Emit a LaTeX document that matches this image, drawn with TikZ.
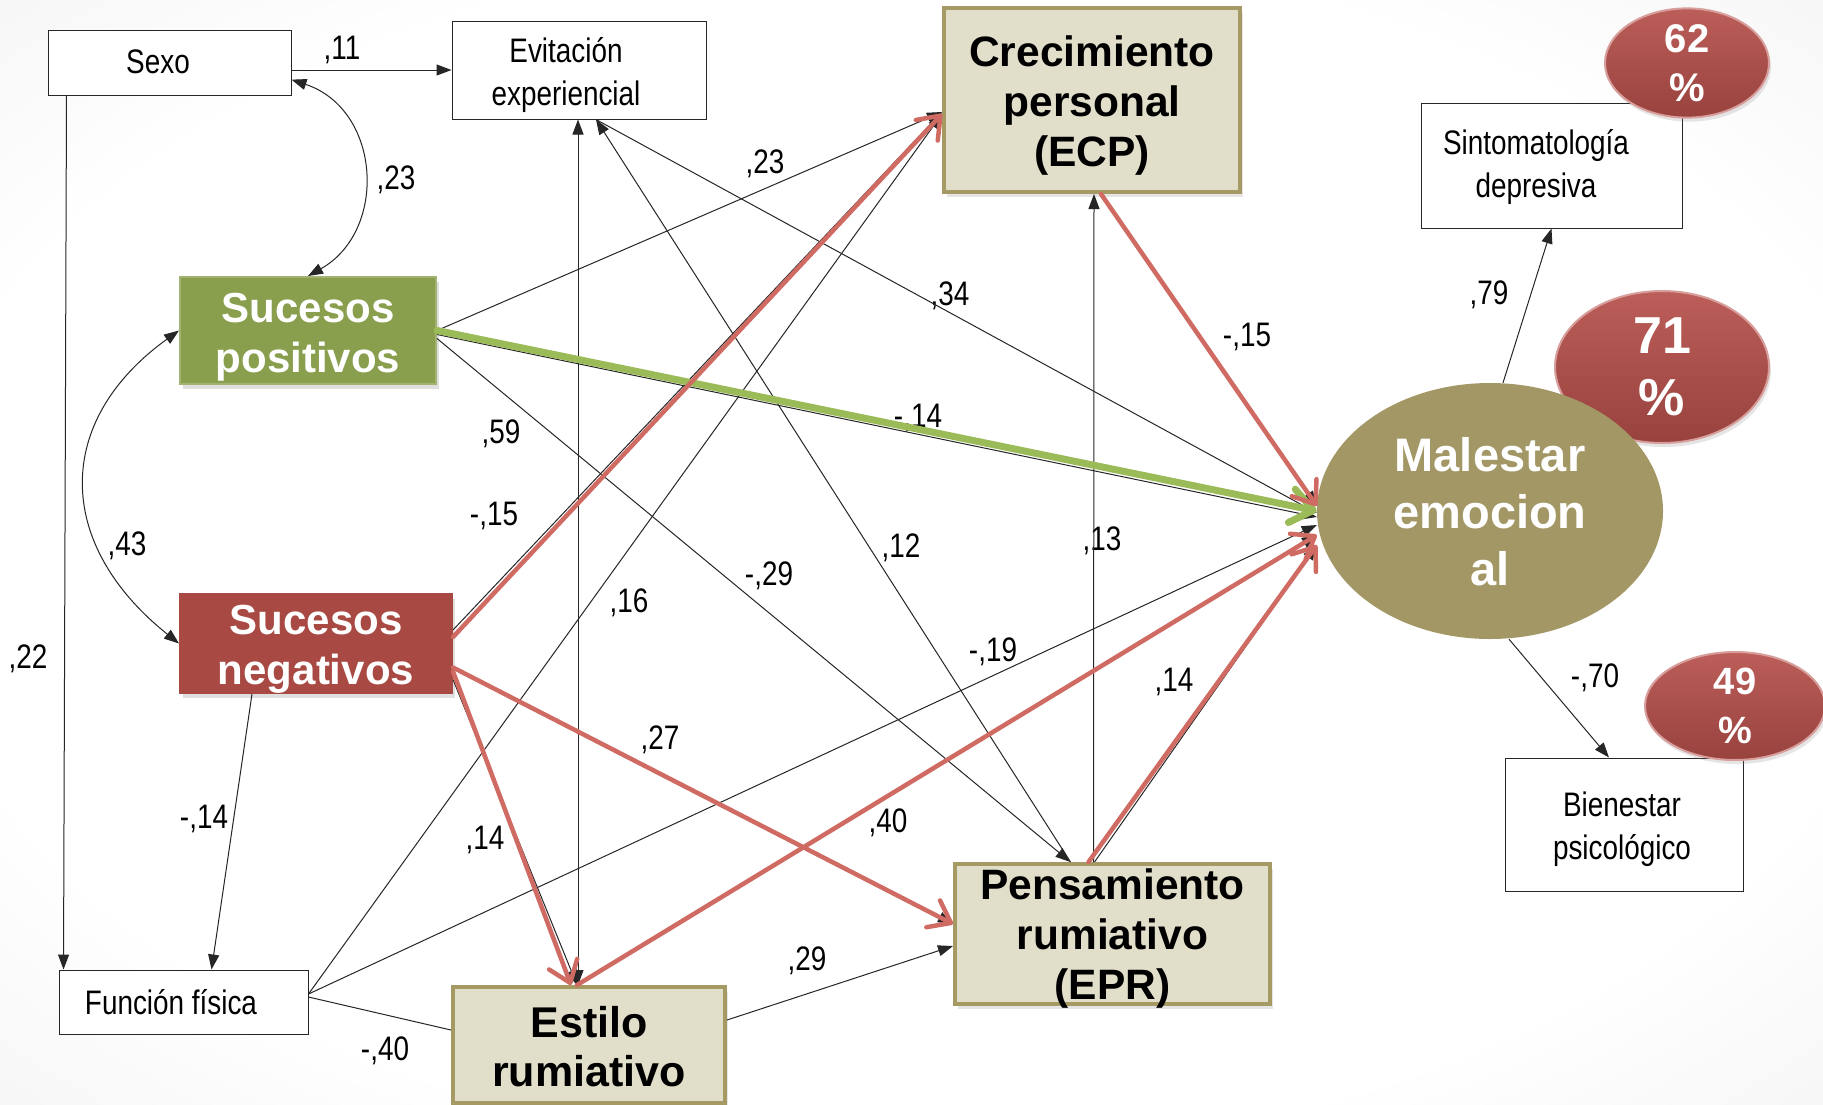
\documentclass[tikz,border=0pt]{standalone}
\usepackage{fontspec}
\setmainfont{Liberation Sans}
\newfontfamily\narrowfont[FakeStretch=0.82]{Liberation Sans}
\usetikzlibrary{arrows.meta,shapes.geometric,shadows}
\definecolor{verde}{RGB}{137,159,78}
\definecolor{verdeclaro}{RGB}{155,187,89}
\definecolor{rojo}{RGB}{168,74,67}
\definecolor{rojoclaro}{RGB}{208,107,99}
\definecolor{beige}{RGB}{225,223,202}
\definecolor{oliva}{RGB}{165,154,99}
\definecolor{pardo}{RGB}{163,151,102}
\definecolor{pctalto}{RGB}{188,94,89}
\definecolor{pctbajo}{RGB}{152,66,62}
\definecolor{fondoA}{RGB}{255,255,255}
\definecolor{fondoB}{RGB}{232,232,232}
\definecolor{fondoC}{RGB}{212,212,212}
\pgfdeclareradialshading{fondo}{\pgfpoint{0bp}{0bp}}{color(0bp)=(fondoA); color(27bp)=(fondoA); color(50bp)=(fondoB); color(72bp)=(fondoC)}
% box text: #1 lift of the first baseline, #2 extra space on the right, #3 lines
\newcommand\lineas[3]{\raisebox{#1}[0pt][0pt]{\begin{tabular}[t]{@{}c@{}}#3\end{tabular}}\hspace*{#2}}

\begin{document}
\begin{tikzpicture}[
      obs/.style={draw=black!85,fill=white,line width=1pt,inner sep=0pt,
        font=\narrowfont\fontsize{34}{43}\selectfont},
      posbox/.style={fill=verde,draw=verde!80!white,line width=2pt,inner sep=0pt,text=white,
        font=\bfseries\fontsize{42}{50}\selectfont,
        drop shadow={shadow xshift=3pt,shadow yshift=-5pt,opacity=0.25}},
      negbox/.style={posbox,fill=rojo,draw=rojo},
      med/.style={fill=beige,draw=oliva,line width=4pt,inner sep=0pt,
        font=\bfseries\fontsize{42.5}{50}\selectfont,
        drop shadow={shadow xshift=3pt,shadow yshift=-5pt,opacity=0.2}},
      mal/.style={ellipse,fill=pardo,inner sep=0pt,text=white,
        font=\bfseries\fontsize{47}{57}\selectfont},
      pct/.style={ellipse,top color=pctalto,bottom color=pctbajo,draw=pctalto!60!white,line width=2pt,
        inner sep=0pt,align=center,text=white,
        drop shadow={shadow xshift=2pt,shadow yshift=-4pt,opacity=0.2}},
      ln/.style={draw=black!85,line width=1pt,-{Triangle[length=15pt,width=11pt]}},
      dbl/.style={ln,{Triangle[length=15pt,width=11pt]}-{Triangle[length=15pt,width=11pt]}},
      pl/.style={draw=black!85,line width=1pt},
      rd/.style={draw=rojoclaro,line width=4.5pt,line cap=round,
        -{Straight Barb[length=20pt,width=30pt,round]}},
      gr/.style={draw=verdeclaro,line width=7pt,line cap=round,
        -{Straight Barb[length=22pt,width=34pt,round]}},
      lbl/.style={font=\narrowfont\fontsize{34}{40}\selectfont,inner sep=0pt},
      x=1pt,y=-1pt]
    \useasboundingbox (0,0) rectangle (1823,1104);
    \shade[shading=fondo] (0,0) rectangle (1823,1104);

    % observed variables
    \node[obs,minimum width=243pt,minimum height=65pt] (sexo) at (169.5,62.5) {\lineas{-11pt}{23pt}{Sexo}};
    \node[obs,minimum width=254pt,minimum height=98pt] (evit) at (579,70) {\lineas{7.5pt}{26pt}{Evitación\\experiencial}};
    \node[obs,minimum width=249pt,minimum height=64pt] (funcion) at (183.5,1002) {\lineas{-12pt}{25pt}{Función física}};
    \node[obs,minimum width=261pt,minimum height=125pt] (sint) at (1551.5,165.5) {\lineas{11pt}{31pt}{Sintomatología\\depresiva}};
    \node[obs,minimum width=238pt,minimum height=133pt] (bien) at (1624,824.5) {\lineas{8pt}{4pt}{Bienestar\\psicológico}};

    % life events
    \node[posbox,minimum width=256pt,minimum height=107pt] (sucpos) at (308,330.5) {\lineas{8.5pt}{0pt}{Sucesos\\positivos}};
    \node[negbox,minimum width=272pt,minimum height=99pt] (sucneg) at (316,643.5) {\lineas{9pt}{0pt}{Sucesos\\negativos}};

    % mediators
    \node[med,minimum width=296pt,minimum height=184pt] (ecp) at (1092,100) {\lineas{34pt}{0pt}{Crecimiento\\personal\\(ECP)}};
    \node[med,minimum width=315pt,minimum height=140pt] (epr) at (1112.5,934) {\lineas{34.5pt}{0pt}{Pensamiento\\rumiativo\\(EPR)}};
    \node[med,minimum width=272pt,minimum height=116pt,font=\bfseries\fontsize{43}{49}\selectfont] (estilo) at (589,1045) {\lineas{8pt}{0pt}{Estilo\\rumiativo}};

    % outcome and explained variance
    \node[pct,minimum width=214pt,minimum height=152pt,font=\bfseries\fontsize{52}{62}\selectfont] (p71) at (1662,367) {71\\\%};
    \node[mal,minimum width=346pt,minimum height=256pt] (malestar) at (1490,511) {\lineas{40pt}{0pt}{Malestar\\emocion\\al}};
    \node[pct,minimum width=164pt,minimum height=108pt,font=\bfseries\fontsize{40}{49}\selectfont] (p62) at (1687,63) {62\\\%};
    \node[pct,minimum width=180pt,minimum height=108pt,font=\bfseries\fontsize{38}{49}\selectfont] (p49) at (1735,706) {49\\\%};

    % coefficients
    \node[lbl] (w11) at (342,50) {,11};
    \node[lbl] (w23a) at (396,180) {,23};
    \node[lbl] (w23b) at (765,164) {,23};
    \node[lbl] (w34) at (950,296) {,34};
    \node[lbl] (w15a) at (1247,337) {-,15};
    \node[lbl] (w79) at (1489,295) {,79};
    \node[lbl] (w14a) at (918,418) {-,14};
    \node[lbl] (w59) at (501,434) {,59};
    \node[lbl] (w15b) at (494,516) {-,15};
    \node[lbl] (w43) at (127,546) {,43};
    \node[lbl] (w22) at (28,659) {,22};
    \node[lbl] (w16) at (629,603) {,16};
    \node[lbl] (w29a) at (769,576) {-,29};
    \node[lbl] (w12) at (901,548) {,12};
    \node[lbl] (w13) at (1102,541) {,13};
    \node[lbl] (w19) at (993,652) {-,19};
    \node[lbl] (w14b) at (1174,682) {,14};
    \node[lbl] (w27) at (660,740) {,27};
    \node[lbl] (w14c) at (204,819) {-,14};
    \node[lbl] (w14d) at (485,840) {,14};
    \node[lbl] (w40a) at (888,823) {,40};
    \node[lbl] (w29b) at (807,961) {,29};
    \node[lbl] (w40b) at (385,1051) {-,40};
    \node[lbl] (w70) at (1595,678) {-,70};

    % thin paths
    \draw[ln] (sexo.east |- evit.west) -- (evit.west);
    \draw[dbl] (sexo.-8) .. controls +(90,30) and +(80,-45) .. (sucpos.north);
    \draw[dbl] (sucpos.west) .. controls +(-125,90) and +(-125,-100) .. (sucneg.west);
    \draw[ln] ([xshift=19pt]sexo.south west) -- ([xshift=5pt]funcion.north west);
    \draw[ln] ([xshift=-64pt]sucneg.south) -- ([xshift=28pt]funcion.north);
    \draw[ln] (sucpos.east) -- ([yshift=-12pt]ecp.west);
    \draw[ln] ([yshift=-8pt]sucpos.east) -- ([xshift=-42pt]epr.north);
    \draw[ln] ([xshift=-42pt]epr.north) -- ([xshift=17pt]evit.south);
    \draw[ln] ([xshift=17pt]evit.south) -- ([yshift=-2pt]malestar.west);
    \draw[dbl] ([xshift=-1pt]evit.south) -- ([xshift=-11pt]estilo.north);
    \draw[ln] ([yshift=8pt]funcion.east) -- ([yshift=-14pt]ecp.west);
    \draw[ln] ([yshift=8pt]funcion.east) -- ([yshift=-14pt]malestar.west);
    \draw[pl] ([yshift=5pt]funcion.east) -- ([yshift=15pt]estilo.west);
    \draw[ln] ([yshift=25pt]estilo.east) -- ([yshift=-12pt]epr.west);
    \draw[ln] ([xshift=-19pt]epr.north) -- ([xshift=2pt]ecp.south);
    \draw[ln] ([xshift=13pt]malestar.north) -- (sint.south);
    \draw[ln] ([xshift=19pt]malestar.south) -- ([xshift=-15pt]bien.north);
    % black paths under the coloured ones
    \draw[ln] ([yshift=13.5pt]sucneg.east) -- ([yshift=-12pt]ecp.west);
    \draw[ln] ([yshift=-36pt]sucneg.east) -- ([xshift=-12pt]estilo.north);
    \draw[ln] ([yshift=-24pt]sucneg.east) -- ([yshift=10pt]epr.west);
    \draw[ln] ([xshift=-12pt]estilo.north) -- ([yshift=-24pt]malestar.west);
    \draw[ln] ([xshift=-18pt]epr.north) -- ([yshift=-34pt]malestar.west);
    \draw[ln] ([xshift=9pt]ecp.south) -- ([yshift=5pt]malestar.west);
    \draw[ln] ([yshift=-4pt]sucpos.east) -- ([yshift=-6pt]malestar.west);

    % significant paths
    \draw[gr] (sucpos.east) -- (malestar.west);
    \draw[rd] ([yshift=6.5pt]sucneg.east) -- ([yshift=-14pt]ecp.west);
    \draw[rd] ([yshift=-28pt]sucneg.east) -- ([xshift=-18pt]estilo.north);
    \draw[rd] ([yshift=-24pt]sucneg.east) -- ([yshift=10pt]epr.west);
    \draw[rd] ([xshift=-12pt]estilo.north) -- ([yshift=-24pt]malestar.west);
    \draw[rd] ([xshift=-24pt]epr.north) -- ([yshift=-34pt]malestar.west);
    \draw[rd] ([xshift=9pt]ecp.south) -- ([yshift=5pt]malestar.west);
  \end{tikzpicture}
\end{document}
